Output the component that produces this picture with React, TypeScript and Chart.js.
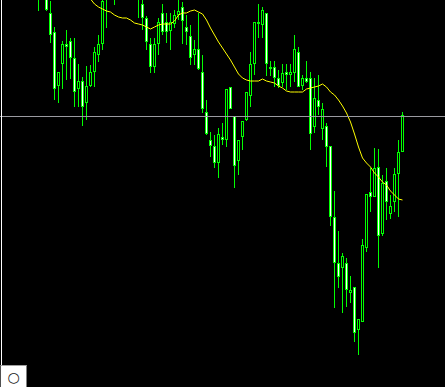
import React, { useEffect, useRef } from "react";
import { Chart, registerables } from "chart.js";

Chart.register(...registerables);

// OHLC values (arbitrary price units, higher = up)
const opens = [
  403, 410, 405, 387, 368, 314, 336, 356, 359, 342,
  311, 319, 297, 314, 328, 345, 356, 405, 420, 415,
  425, 435, 430, 440, 432, 425, 396, 382, 356, 333,
  356, 387, 378, 369, 376, 385, 393, 373, 364, 345,
  351, 328, 288, 260, 254, 237, 263, 260, 313, 284,
  239, 263, 280, 304, 336, 378, 375, 387, 333, 333,
  322, 317, 328, 325, 327, 348, 314, 322, 322, 273,
  300, 271, 274, 254, 183, 137, 132, 137, 107, 113,
  70, 78, 152, 208, 203, 233, 166, 219, 186, 198,
  226, 248,
];
const highs = [
  420, 430, 412, 399, 373, 328, 359, 370, 362, 362,
  336, 323, 334, 335, 353, 365, 403, 430, 440, 436,
  445, 448, 452, 450, 442, 432, 402, 384, 362, 362,
  382, 396, 387, 387, 390, 400, 398, 385, 375, 360,
  387, 345, 300, 268, 265, 272, 277, 311, 313, 284,
  260, 279, 308, 348, 378, 396, 393, 387, 339, 339,
  330, 336, 336, 336, 365, 353, 325, 339, 328, 322,
  325, 297, 277, 254, 209, 169, 147, 142, 124, 113,
  81, 161, 206, 232, 252, 251, 225, 232, 205, 232,
  260, 288,
];
const lows = [
  389, 405, 389, 357, 300, 297, 311, 320, 321, 293,
  293, 274, 280, 313, 313, 338, 350, 372, 410, 395,
  412, 418, 415, 420, 410, 382, 370, 350, 327, 327,
  345, 365, 357, 350, 372, 380, 356, 355, 335, 335,
  330, 287, 265, 243, 232, 222, 255, 253, 291, 212,
  225, 250, 279, 293, 325, 362, 362, 324, 324, 313,
  312, 313, 310, 313, 318, 313, 310, 317, 250, 267,
  285, 260, 233, 174, 92, 112, 87, 93, 97, 58,
  45, 78, 148, 188, 203, 132, 164, 180, 181, 188,
  183, 248,
];
const closes = [
  414, 425, 390, 365, 311, 328, 356, 353, 342, 308,
  319, 293, 314, 328, 348, 356, 399, 420, 432, 428,
  438, 428, 440, 432, 425, 415, 382, 358, 333, 356,
  378, 368, 368, 378, 385, 389, 379, 368, 342, 351,
  331, 291, 266, 254, 237, 266, 260, 311, 291, 234,
  260, 279, 308, 336, 378, 376, 390, 336, 331, 322,
  314, 327, 325, 328, 351, 313, 322, 318, 266, 302,
  293, 291, 253, 183, 137, 123, 144, 110, 110, 67,
  81, 155, 206, 203, 232, 164, 217, 198, 194, 226,
  248, 285,
];
// Moving average
const maValues: (number | null)[] = [
  null, null, null, null, null, null, null, null, null, null,
  null, 408, 404, 401, 396, 393, 391, 389, 388, 385,
  383, 382, 382, 380, 377, 376, 375, 373, 371, 373,
  375, 376, 376, 376, 379, 385, 387, 387, 389, 390,
  388, 386, 380, 372, 365, 358, 352, 346, 340, 333,
  326, 322, 320, 319, 319, 319, 321, 319, 318, 317,
  314, 312, 309, 308, 308, 308, 308, 311, 312, 313,
  314, 316, 313, 308, 305, 300, 294, 287, 278, 266,
  253, 242, 237, 233, 227, 223, 218, 215, 209, 205,
  201, 200,
];
const priceLevel = 283.5;

const W = 445;
const H = 387;

export default function App() {
  const ref = useRef<HTMLCanvasElement>(null);

  useEffect(() => {
    document.body.style.margin = "0";
    document.body.style.background = "#000";
    const canvas = ref.current;
    if (!canvas) return;
    const idx = opens.map((_, i) => i);
    const wickData = idx.map((i) => ({ x: i, y: [lows[i], highs[i]] }));
    const bodyData = idx.map((i) => ({ x: i, y: [opens[i], closes[i]] }));
    const bodyColors = idx.map((i) => (closes[i] < opens[i] ? "#ffffff" : "#000000"));
    const maData = idx.map((i) => ({ x: i, y: maValues[i] }));

    const overlay = {
      id: "overlay",
      afterDatasetsDraw(chart: any) {
        const ctx = chart.ctx;
        const y = chart.scales.y.getPixelForValue(priceLevel);
        ctx.save();
        ctx.strokeStyle = "#9a9aa0";
        ctx.lineWidth = 1;
        ctx.beginPath();
        ctx.moveTo(0, y);
        ctx.lineTo(W, y);
        ctx.stroke();
        ctx.fillStyle = "#ffffff";
        ctx.fillRect(1, 0, 1, 365);
        ctx.restore();
      },
    };

    const chart = new Chart(canvas, {
      type: "bar",
      data: {
        datasets: [
          {
            type: "line",
            data: maData as any,
            borderColor: "#ffff00",
            borderWidth: 1,
            pointRadius: 0,
            tension: 0,
            spanGaps: false,
            order: 0,
          } as any,
          {
            data: bodyData as any,
            backgroundColor: bodyColors,
            borderColor: "#00ff00",
            borderWidth: 1,
            borderSkipped: false,
            barThickness: 3,
            grouped: false,
            inflateAmount: 0,
            order: 1,
          } as any,
          {
            data: wickData as any,
            backgroundColor: "#00ff00",
            borderWidth: 0,
            barThickness: 1,
            grouped: false,
            inflateAmount: 0,
            order: 2,
          } as any,
        ],
      },
      options: {
        responsive: false,
        animation: false,
        devicePixelRatio: 1,
        layout: { padding: 0 },
        plugins: { legend: { display: false }, tooltip: { enabled: false }, title: { display: false } },
        scales: {
          x: { type: "linear", min: -9.625, max: 101.625, display: false, offset: false, grid: { display: false } },
          y: { type: "linear", min: 13, max: 400, display: false, grid: { display: false } },
        },
      },
      plugins: [overlay],
    });
    return () => chart.destroy();
  }, []);

  return (
    <div style={{ position: "relative", width: W, height: H, background: "#000", overflow: "hidden" }}>
      <canvas ref={ref} width={W} height={H} style={{ display: "block", width: W, height: H }} />
      <div
        style={{
          position: "absolute",
          left: 0,
          top: 365,
          width: 25,
          height: 21,
          background: "#ffffff",
          borderTop: "1px solid #a0a0a0",
          borderRight: "1px solid #808080",
          borderLeft: "1px solid #505050",
          boxSizing: "content-box",
          fontFamily: "DejaVu Sans",
          fontSize: 14,
          lineHeight: "23px",
          textAlign: "center",
          color: "#202020",
        }}
      >
        ○
      </div>
    </div>
  );
}
